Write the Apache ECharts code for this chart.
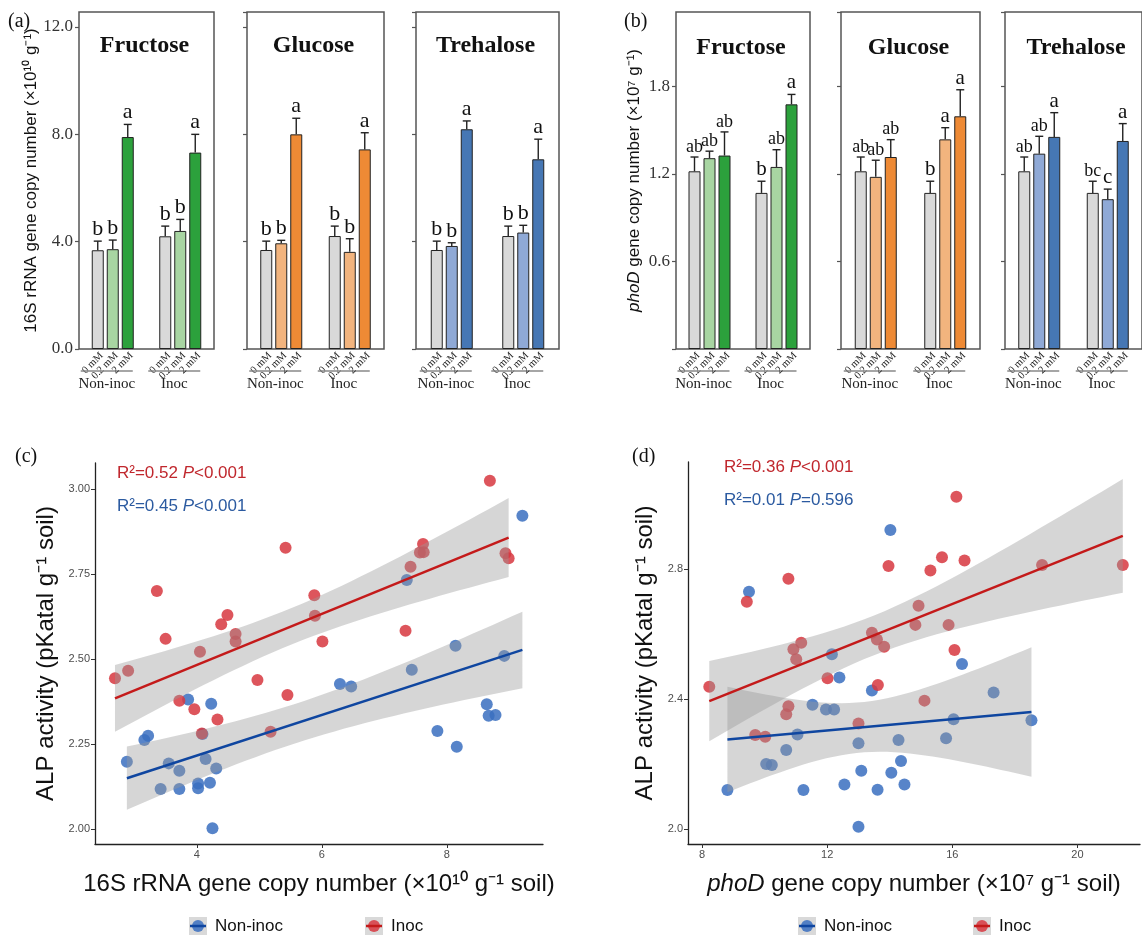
<!DOCTYPE html>
<html>
<head>
<meta charset="utf-8">
<script src="https://cdn.jsdelivr.net/npm/echarts@6/dist/echarts.min.js"></script>
<style>
  html, body { margin: 0; padding: 0; background: #fff; }
  #chart { width: 1142px; height: 936px; }
</style>
</head>
<body>
<div id="chart"></div>
<script>
// ---------- data ----------
var sugars = ['Fructose', 'Glucose', 'Trehalose']
var groups = ['Non-inoc', 'Inoc']
var doses = ['0 mM', '0.2 mM', '2 mM']

// (a) 16S rRNA (x10^10 g-1), order: Non-inoc 0/0.2/2 mM, Inoc 0/0.2/2 mM; rows = sugars
var rnaMean = [
  [3.68, 3.72, 7.9, 4.2, 4.4, 7.32],
  [3.69, 3.94, 8.0, 4.21, 3.62, 7.44],
  [3.69, 3.84, 8.19, 4.21, 4.34, 7.07]
]
var rnaSe = [
  [0.34, 0.34, 0.47, 0.38, 0.43, 0.68],
  [0.33, 0.11, 0.6, 0.37, 0.49, 0.62],
  [0.33, 0.12, 0.31, 0.37, 0.27, 0.75]
]
var rnaSig = [
  ['b', 'b', 'a', 'b', 'b', 'a'],
  ['b', 'b', 'a', 'b', 'b', 'a'],
  ['b', 'b', 'a', 'b', 'b', 'a']
]

// (b) phoD (x10^7 g-1)
var phoMean = [
  [1.218, 1.308, 1.326, 1.07, 1.248, 1.677],
  [1.218, 1.18, 1.316, 1.07, 1.437, 1.595],
  [1.218, 1.339, 1.454, 1.07, 1.027, 1.426]
]
var phoSe = [
  [0.098, 0.048, 0.162, 0.08, 0.118, 0.068],
  [0.098, 0.114, 0.119, 0.08, 0.08, 0.182],
  [0.098, 0.119, 0.166, 0.08, 0.069, 0.119]
]
var phoSig = [
  ['ab', 'ab', 'ab', 'b', 'ab', 'a'],
  ['ab', 'ab', 'ab', 'b', 'a', 'a'],
  ['ab', 'ab', 'a', 'bc', 'c', 'a']
]

// (c) ALP vs 16S
var rnaNonX = [2.88, 3.16, 3.22, 3.42, 3.55, 3.72, 3.72, 3.86, 4.02, 4.02, 4.09, 4.14, 4.21, 4.23,
  4.25, 4.31, 6.29, 6.47, 7.36, 7.44, 7.85, 8.14, 8.16, 8.64, 8.67, 8.78, 8.92, 9.21]
var rnaNonY = [2.198, 2.262, 2.274, 2.118, 2.193, 2.171, 2.118, 2.381, 2.134, 2.12, 2.279, 2.206, 2.136, 2.368,
  2.002, 2.178, 2.426, 2.419, 2.732, 2.468, 2.288, 2.539, 2.242, 2.367, 2.333, 2.335, 2.509, 2.921]
var rnaInocX = [2.69, 2.9, 3.36, 3.5, 3.72, 3.96, 4.05, 4.08, 4.33, 4.39, 4.49, 4.62, 4.62, 4.97,
  5.18, 5.42, 5.45, 5.88, 5.89, 6.01, 7.34, 7.42, 7.57, 7.62, 7.63, 8.69, 8.94, 8.99]
var rnaInocY = [2.443, 2.465, 2.7, 2.559, 2.377, 2.352, 2.521, 2.281, 2.322, 2.602, 2.629, 2.573, 2.551, 2.438,
  2.286, 2.827, 2.394, 2.687, 2.627, 2.551, 2.583, 2.771, 2.813, 2.838, 2.814, 3.024, 2.811, 2.796]

// (d) ALP vs phoD
var phoNonX = [8.81, 9.5, 10.05, 10.23, 10.69, 11.05, 11.24, 11.53, 11.96, 12.15, 12.22, 12.39, 12.55, 13.0,
  13.0, 13.09, 13.43, 13.61, 14.02, 14.05, 14.28, 14.36, 14.47, 15.8, 16.04, 16.31, 17.32, 18.53]
var phoNonY = [2.12, 2.73, 2.2, 2.197, 2.243, 2.291, 2.12, 2.382, 2.368, 2.538, 2.368, 2.466, 2.137, 2.264,
  2.007, 2.179, 2.426, 2.121, 2.92, 2.173, 2.274, 2.209, 2.137, 2.279, 2.338, 2.508, 2.42, 2.335]
var phoInocX = [8.23, 9.43, 9.7, 10.02, 10.69, 10.76, 10.76, 10.92, 11.01, 11.17, 12.01, 13.0, 13.43, 13.59,
  13.62, 13.82, 13.96, 14.82, 14.92, 15.11, 15.3, 15.67, 15.88, 16.07, 16.13, 16.39, 18.87, 21.45]
var phoInocY = [2.438, 2.699, 2.289, 2.284, 2.353, 2.378, 2.77, 2.553, 2.522, 2.573, 2.464, 2.325, 2.604, 2.583,
  2.443, 2.561, 2.809, 2.628, 2.687, 2.395, 2.795, 2.836, 2.628, 2.551, 3.022, 2.826, 2.812, 2.812]

// ---------- style ----------
var SERIF = '"Liberation Serif", "Times New Roman", serif'
var SANS = '"Liberation Sans", Arial, sans-serif'
var barColors = [
  ['#d9d9d9', '#a8d5a2', '#2ca13c'],
  ['#d9d9d9', '#f2b47e', '#ee8a35'],
  ['#d9d9d9', '#8fa9d6', '#4677b4']
]
var RED = '#d7373f', BLUE = '#3a6fbf'

var chart = echarts.init(document.getElementById('chart'))
var grids = [], xAxes = [], yAxes = [], series = [], graphics = []

function txt(x, y, text, font, fill, align, extra) {
  return {
    type: 'text', x: x, y: y, z: 100,
    style: Object.assign({
      text: text, font: font, fill: fill,
      align: align, textAlign: align, verticalAlign: 'middle', textVerticalAlign: 'middle'
    }, extra || {})
  }
}

// bar facets
var barPanels = [
  { boxes: [[79, 135], [247, 137], [416, 143]], max: 12.56, interval: 4, mean: rnaMean, se: rnaSe, sig: rnaSig,
    name: '16S rRNA gene copy number (×10¹⁰ g⁻¹)', nameGap: 38, fmt: function (v) { return v.toFixed(1) },
    big: 22, small: 22 },
  { boxes: [[676, 134], [841, 139], [1005, 146]], max: 2.31, interval: 0.6, mean: phoMean, se: phoSe, sig: phoSig,
    name: '{i|phoD} gene copy number (×10⁷ g⁻¹)', nameGap: 33, fmt: function (v) { return v === 0 ? '' : v.toFixed(1) },
    big: 21, small: 18 }
]

function barNotes(mean, se, sig, big, small) {
  return function (params, api) {
    var k = params.dataIndex
    var g = Math.floor(k / 3), d = k % 3
    var base = api.coord([g, 0])
    var x = base[0] + (d - 1) * 15
    var y0 = api.coord([g, mean[k]])[1]
    var top = api.coord([g, mean[k] + se[k]])[1]
    var ls = { stroke: '#222', lineWidth: 1.4 }
    var kids = [
      { type: 'line', shape: { x1: x, y1: y0, x2: x, y2: top }, style: ls },
      { type: 'line', shape: { x1: x - 4, y1: top, x2: x + 4, y2: top }, style: ls },
      { type: 'text', x: x, y: top - 1, style: { text: sig[k], font: (sig[k].length > 1 ? small : big) + 'px ' + SERIF,
        fill: '#111', align: 'center', textAlign: 'center', verticalAlign: 'bottom', textVerticalAlign: 'bottom' } },
      { type: 'text', x: x + 4, y: base[1] + 5, rotation: Math.PI / 4, style: { text: doses[d], font: '10.5px ' + SERIF,
        fill: '#222', align: 'right', textAlign: 'right', verticalAlign: 'middle', textVerticalAlign: 'middle' } }
    ]
    if (d === 1) {
      var cx = base[0] - 6
      kids.push({ type: 'line', shape: { x1: cx - 26, y1: base[1] + 22, x2: cx + 26, y2: base[1] + 22 },
        style: { stroke: '#888', lineWidth: 1.5 } })
      kids.push({ type: 'text', x: cx, y: base[1] + 35, style: { text: groups[g], font: '15px ' + SERIF, fill: '#222',
        align: 'center', textAlign: 'center', verticalAlign: 'middle', textVerticalAlign: 'middle' } })
    }
    return { type: 'group', children: kids }
  }
}

barPanels.forEach(function (p) {
  sugars.forEach(function (sugar, s) {
    var gi = grids.length
    var box = p.boxes[s]
    grids.push({ left: box[0], top: 12, width: box[1], height: 337, show: true,
      borderColor: '#555', borderWidth: 1.5, backgroundColor: 'transparent' })
    xAxes.push({ gridIndex: gi, type: 'category', data: groups,
      axisLine: { show: false }, axisTick: { show: false }, axisLabel: { show: false } })
    yAxes.push({ gridIndex: gi, type: 'value', min: 0, max: p.max, interval: p.interval,
      axisLine: { show: false }, splitLine: { show: false },
      axisTick: { show: true, length: 4, lineStyle: { color: '#555', width: 1.2 } },
      axisLabel: { show: s === 0, showMaxLabel: false, fontFamily: SERIF, fontSize: 17, color: '#333', margin: 6,
        formatter: p.fmt },
      name: s === 0 ? p.name : '', nameLocation: 'middle', nameGap: p.nameGap, nameRotate: 90,
      nameTextStyle: { fontFamily: SANS, fontSize: 17, color: '#111',
        rich: { i: { fontFamily: SANS, fontSize: 17, fontStyle: 'italic', color: '#111' } } } })
    for (var d = 0; d < 3; d++) {
      series.push({ type: 'bar', xAxisIndex: gi, yAxisIndex: gi, barWidth: 12, barGap: '25%',
        data: [p.mean[s][d], p.mean[s][d + 3]],
        itemStyle: { color: barColors[s][d], borderColor: '#222', borderWidth: 1 } })
    }
    series.push({ type: 'custom', xAxisIndex: gi, yAxisIndex: gi, z: 5,
      data: p.mean[s].map(function (v, k) { return [Math.floor(k / 3), v] }),
      renderItem: barNotes(p.mean[s], p.se[s], p.sig[s], p.big, p.small) })
    graphics.push(txt(box[0] + box[1] / 2 - 2, p === barPanels[0] ? 46 : 48, sugar, 'bold 24px ' + SERIF, '#111', 'center'))
  })
})

// scatter panels
function fit(xs, ys) {
  var n = xs.length, mx = 0, my = 0
  for (var i = 0; i < n; i++) { mx += xs[i]; my += ys[i] }
  mx /= n; my /= n
  var sxx = 0, sxy = 0
  for (i = 0; i < n; i++) { sxx += (xs[i] - mx) * (xs[i] - mx); sxy += (xs[i] - mx) * (ys[i] - my) }
  var b = sxy / sxx, a = my - b * mx
  var sse = 0
  for (i = 0; i < n; i++) { var r = ys[i] - a - b * xs[i]; sse += r * r }
  var s = Math.sqrt(sse / (n - 2)), t = 2.056
  var lo = Math.min.apply(null, xs), hi = Math.max.apply(null, xs)
  var band = []
  for (i = 0; i <= 40; i++) {
    var x = lo + (hi - lo) * i / 40, yh = a + b * x
    var w = t * s * Math.sqrt(1 / n + (x - mx) * (x - mx) / sxx)
    band.push([x, yh - w, yh + w])
  }
  return { line: [[lo, a + b * lo], [hi, a + b * hi]], band: band }
}

var scatterPanels = [
  { grid: { left: 95, top: 463, width: 448, height: 381 }, xMin: 2.37, xMax: 9.54, xTicks: [4, 6, 8],
    yMin: 1.956, yMax: 3.076, yTicks: [2, 2.25, 2.5, 2.75, 3], yDigits: 2,
    non: [rnaNonX, rnaNonY], inoc: [rnaInocX, rnaInocY],
    xName: '16S rRNA gene copy number (×10¹⁰ g⁻¹ soil)', yGap: 37,
    stats: [['R²=0.52 ', '<0.001'], ['R²=0.45 ', '<0.001']], statX: 117, statY: [473, 506],
    legend: [198, 374] },
  { grid: { left: 688, top: 462, width: 452, height: 382 }, xMin: 7.55, xMax: 22.0, xTicks: [8, 12, 16, 20],
    yMin: 1.954, yMax: 3.129, yTicks: [2.0, 2.4, 2.8], yDigits: 1,
    non: [phoNonX, phoNonY], inoc: [phoInocX, phoInocY],
    xName: '{i|phoD} gene copy number (×10⁷ g⁻¹ soil)', yGap: 31,
    stats: [['R²=0.36 ', '<0.001'], ['R²=0.01 ', '=0.596']], statX: 724, statY: [467, 500],
    legend: [807, 982] }
]

scatterPanels.forEach(function (p) {
  var gi = grids.length
  grids.push(p.grid)
  var axisLine = { lineStyle: { color: '#222', width: 1.3 } }
  var tick = { length: 4, lineStyle: { color: '#333', width: 1 } }
  xAxes.push({ gridIndex: gi, type: 'value', min: p.xMin, max: p.xMax, splitLine: { show: false },
    axisLine: axisLine, axisTick: Object.assign({ customValues: p.xTicks }, tick),
    axisLabel: { customValues: p.xTicks, fontFamily: SANS, fontSize: 11, color: '#4d4d4d', margin: 5 },
    name: p.xName, nameLocation: 'middle', nameGap: 28,
    nameTextStyle: { fontFamily: SANS, fontSize: 24, color: '#111',
      rich: { i: { fontFamily: SANS, fontSize: 24, fontStyle: 'italic', color: '#111' } } } })
  yAxes.push({ gridIndex: gi, type: 'value', min: p.yMin, max: p.yMax, splitLine: { show: false },
    axisLine: axisLine, axisTick: Object.assign({ customValues: p.yTicks }, tick),
    axisLabel: { customValues: p.yTicks, fontFamily: SANS, fontSize: 11, color: '#4d4d4d', margin: 5,
      formatter: function (v) { return v.toFixed(p.yDigits) } },
    name: 'ALP activity (pKatal g⁻¹ soil)', nameLocation: 'middle', nameGap: p.yGap, nameRotate: 90,
    nameTextStyle: { fontFamily: SANS, fontSize: 24, color: '#111' } })

  var sets = [[p.non, BLUE, '#0f46a0'], [p.inoc, RED, '#c41a1a']]
  sets.forEach(function (st) {
    var xs = st[0][0], ys = st[0][1]
    series.push({ type: 'scatter', xAxisIndex: gi, yAxisIndex: gi, z: 2, symbolSize: 12,
      data: xs.map(function (x, i) { return [x, ys[i]] }),
      itemStyle: { color: st[1], opacity: 0.85 } })
  })
  sets.forEach(function (st) {
    var f = fit(st[0][0], st[0][1])
    series.push({ type: 'custom', xAxisIndex: gi, yAxisIndex: gi, z: 3, data: [f.line[0]],
      renderItem: function (params, api) {
        var up = f.band.map(function (b) { return api.coord([b[0], b[2]]) })
        var dn = f.band.slice().reverse().map(function (b) { return api.coord([b[0], b[1]]) })
        return { type: 'polygon', shape: { points: up.concat(dn) }, style: { fill: '#999', opacity: 0.4 } }
      } })
    series.push({ type: 'line', xAxisIndex: gi, yAxisIndex: gi, z: 4, data: f.line, symbol: 'none',
      lineStyle: { color: st[2], width: 2.5 } })
  })

  // R2 annotations
  var statColors = ['#c0272d', '#2b5aa0']
  p.stats.forEach(function (st, i) {
    graphics.push(txt(p.statX, p.statY[i], st[0] + '{i|P}' + st[1], '17px ' + SANS, statColors[i], 'left',
      { rich: { i: { fontSize: 17, fontFamily: SANS, fontStyle: 'italic', fill: statColors[i] } } }))
  })

  // legend
  var items = [['Non-inoc', BLUE, '#0f46a0'], ['Inoc', RED, '#c41a1a']]
  items.forEach(function (it, i) {
    var cx = p.legend[i], cy = 926
    graphics.push({ type: 'rect', shape: { x: cx - 9, y: cy - 9, width: 18, height: 18 }, style: { fill: '#d9d9d9' }, z: 100 })
    graphics.push({ type: 'circle', shape: { cx: cx, cy: cy, r: 6 }, style: { fill: it[1], opacity: 0.85 }, z: 101 })
    graphics.push({ type: 'line', shape: { x1: cx - 8, y1: cy, x2: cx + 8, y2: cy }, style: { stroke: it[2], lineWidth: 2.5 }, z: 102 })
    graphics.push(txt(cx + 17, cy, it[0], '17px ' + SANS, '#111', 'left'))
  })
})

// panel letters
graphics.push(txt(8, 22, '(a)', '20px ' + SERIF, '#111', 'left'))
graphics.push(txt(624, 22, '(b)', '20px ' + SERIF, '#111', 'left'))
graphics.push(txt(15, 457, '(c)', '20px ' + SERIF, '#111', 'left'))
graphics.push(txt(632, 457, '(d)', '20px ' + SERIF, '#111', 'left'))

chart.setOption({
  animation: false,
  backgroundColor: '#fff',
  grid: grids,
  xAxis: xAxes,
  yAxis: yAxes,
  series: series,
  graphic: graphics
})
</script>
</body>
</html>
